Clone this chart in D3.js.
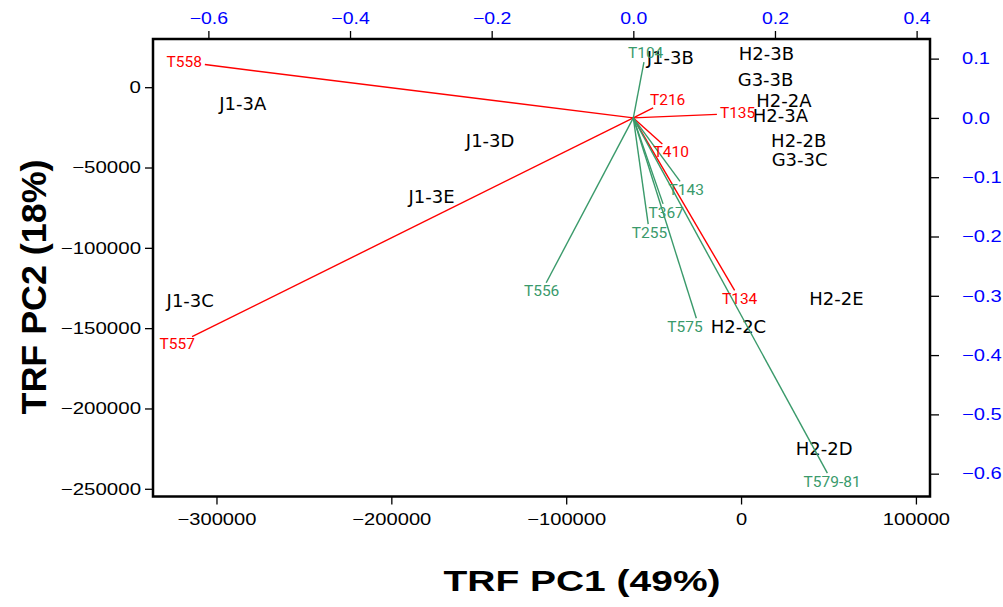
<!DOCTYPE html>
<html>
<head>
<meta charset="utf-8">
<script src="https://cdn.jsdelivr.net/npm/d3@7"></script>
<style>
  body { margin: 0; background: #fff; }
  svg { display: block; }
</style>
</head>
<body>
<svg id="chart" width="1003" height="607"></svg>
<script>
// PCA biplot of TRF profiles: sample scores (black labels) and fragment loadings (vectors)
const sampleNames = ["J1-3A", "J1-3B", "J1-3C", "J1-3D", "J1-3E", "H2-3B", "G3-3B",
                     "H2-2A", "H2-3A", "H2-2B", "G3-3C", "H2-2E", "H2-2C", "H2-2D"];
const samplePC1 = [-285000, -40500, -315000, -143500, -177000, 14500, 14000,
                   24500, 22500, 33000, 33500, 54500, -1500, 47500];
const samplePC2 = [-10000, 18500, -133000, -33000, -68000, 21000, 5000,
                   -8000, -17500, -33000, -45000, -131500, -149000, -225000];

const fragNames = ["T558", "T557", "T216", "T135", "T410", "T134",
                   "T104", "T143", "T367", "T255", "T556", "T575", "T579-81"];
const fragPC1 = [-0.605, -0.623, 0.028, 0.118, 0.041, 0.143,
                 0.015, 0.066, 0.042, 0.021, -0.123, 0.089, 0.274];
const fragPC2 = [0.090, -0.369, 0.017, 0.006, -0.044, -0.291,
                 0.094, -0.107, -0.145, -0.179, -0.278, -0.338, -0.599];
const fragGroup = ["A", "A", "A", "A", "A", "A",
                   "B", "B", "B", "B", "B", "B", "B"];

const pc1Ticks = [-300000, -200000, -100000, 0, 100000];
const pc2Ticks = [0, -50000, -100000, -150000, -200000, -250000];
const load1Ticks = [-0.6, -0.4, -0.2, 0.0, 0.2, 0.4];
const load2Ticks = [0.1, 0.0, -0.1, -0.2, -0.3, -0.4, -0.5, -0.6];

const W = 1003, H = 607;
const margin = { left: 153, right: 73, top: 39, bottom: 110.5 };
const x0 = margin.left, x1 = W - margin.right, y0 = margin.top, y1 = H - margin.bottom;

const svg = d3.select("#chart");

// score scales (bottom / left) and loading scales (top / right)
const xScore = d3.scaleLinear().domain([-336300, 108050]).range([x0, x1]);
const yScore = d3.scaleLinear().domain([-254800, 30000]).range([y1, y0]);
const xLoad = d3.scaleLinear().domain([-0.6782, 0.4189]).range([x0, x1]);
const yLoad = d3.scaleLinear().domain([-0.6385, 0.1331]).range([y1, y0]);

const colour = { A: "#ff0000", B: "#3a9a6b" };

// stretch text horizontally by factor k
function widen(sel, k) {
  sel.each(function () {
    const len = this.getComputedTextLength();
    d3.select(this).attr("textLength", len * k).attr("lengthAdjust", "spacingAndGlyphs");
  });
}

function styleAxis(g, col) {
  g.select(".domain").remove();
  g.selectAll(".tick line").attr("stroke", "#000").attr("stroke-width", 1.3);
  g.selectAll(".tick text")
    .attr("fill", col)
    .style("font-family", "'Liberation Sans', Arial, sans-serif")
    .style("font-size", "16.5px");
}

// bottom axis: PC1 scores
const gB = svg.append("g").attr("transform", `translate(0,${y1})`)
  .call(d3.axisBottom(xScore).tickValues(pc1Ticks).tickFormat(d3.format("d")).tickSize(8).tickPadding(9));
styleAxis(gB, "#000");
gB.selectAll(".tick text").call(widen, 1.22);

// left axis: PC2 scores
const gL = svg.append("g").attr("transform", `translate(${x0},0)`)
  .call(d3.axisLeft(yScore).tickValues(pc2Ticks).tickFormat(d3.format("d")).tickSize(8).tickPadding(4));
styleAxis(gL, "#000");
gL.selectAll(".tick text").call(widen, 1.24);

// top axis: PC1 loadings
const gT = svg.append("g").attr("transform", `translate(0,${y0})`)
  .call(d3.axisTop(xLoad).tickValues(load1Ticks).tickFormat(d3.format(".1f")).tickSize(8).tickPadding(7));
styleAxis(gT, "#0000ff");
gT.selectAll(".tick text").call(widen, 1.18);

// right axis: PC2 loadings
const gR = svg.append("g").attr("transform", `translate(${x1},0)`)
  .call(d3.axisRight(yLoad).tickValues(load2Ticks).tickFormat(d3.format(".1f")).tickSize(9).tickPadding(23));
styleAxis(gR, "#0000ff");
gR.selectAll(".tick text").call(widen, 1.22);

// plot frame
svg.append("rect")
  .attr("x", x0).attr("y", y0)
  .attr("width", x1 - x0).attr("height", y1 - y0)
  .attr("fill", "none").attr("stroke", "#000").attr("stroke-width", 2.5);

// sample score labels
const sampleText = svg.append("g").selectAll("text")
  .data(sampleNames)
  .join("text")
  .attr("x", (d, i) => xScore(samplePC1[i]))
  .attr("y", (d, i) => yScore(samplePC2[i]))
  .attr("text-anchor", "middle")
  .attr("dominant-baseline", "central")
  .style("font-family", "'DejaVu Sans', Verdana, sans-serif")
  .style("font-size", "18px")
  .attr("fill", "#000")
  .text(d => d);

const sampleBoxes = [];
sampleText.each(function () { sampleBoxes.push(this.getBBox()); });

// loading vectors from the origin
const ox = xLoad(0), oy = yLoad(0);
const vec = svg.append("g");
vec.selectAll("line")
  .data(fragNames)
  .join("line")
  .attr("x1", ox).attr("y1", oy)
  .attr("x2", (d, i) => xLoad(fragPC1[i]))
  .attr("y2", (d, i) => yLoad(fragPC2[i]))
  .attr("stroke", (d, i) => colour[fragGroup[i]])
  .attr("stroke-width", 1.4);

// vector labels, pushed just beyond each tip along the vector direction;
// labels below the origin slide sideways off any sample name they would cover
vec.selectAll("text")
  .data(fragNames)
  .join("text")
  .attr("text-anchor", "middle")
  .attr("dominant-baseline", "central")
  .style("font-family", "Roboto, 'Liberation Sans', sans-serif")
  .style("font-size", "15.5px")
  .attr("fill", (d, i) => colour[fragGroup[i]])
  .text(d => d)
  .each(function (d, i) {
    const tx = xLoad(fragPC1[i]), ty = yLoad(fragPC2[i]);
    const dx = tx - ox, dy = ty - oy, len = Math.hypot(dx, dy);
    const ux = dx / len, uy = dy / len;
    const hw = this.getComputedTextLength() / 2, hh = 6;
    const reach = Math.min(Math.abs(ux) > 1e-6 ? hw / Math.abs(ux) : Infinity,
                           Math.abs(uy) > 1e-6 ? hh / Math.abs(uy) : Infinity);
    const dist = reach + 3;
    let cx = tx + ux * dist;
    const cy = ty + uy * dist;
    if (dy > 0) {
      sampleBoxes.forEach(b => {
        const overlapX = cx + hw > b.x && cx - hw < b.x + b.width;
        const overlapY = cy + hh > b.y && cy - hh < b.y + b.height;
        if (overlapX && overlapY) {
          cx = (cx < b.x + b.width / 2) ? b.x - hw - 8 : b.x + b.width + hw + 8;
        }
      });
    }
    d3.select(this).attr("x", cx).attr("y", cy);
  });

// axis titles
svg.append("text")
  .attr("x", 582).attr("y", 581)
  .attr("text-anchor", "middle")
  .attr("dominant-baseline", "central")
  .style("font-family", "'Liberation Sans', Arial, sans-serif")
  .style("font-weight", "bold")
  .style("font-size", "29px")
  .attr("textLength", 277).attr("lengthAdjust", "spacingAndGlyphs")
  .text("TRF PC1 (49%)");

svg.append("text")
  .attr("transform", "translate(33,287) rotate(-90)")
  .attr("text-anchor", "middle")
  .attr("dominant-baseline", "central")
  .style("font-family", "'Liberation Sans', Arial, sans-serif")
  .style("font-weight", "bold")
  .style("font-size", "35px")
  .attr("textLength", 255).attr("lengthAdjust", "spacingAndGlyphs")
  .text("TRF PC2 (18%)");
</script>
</body>
</html>
